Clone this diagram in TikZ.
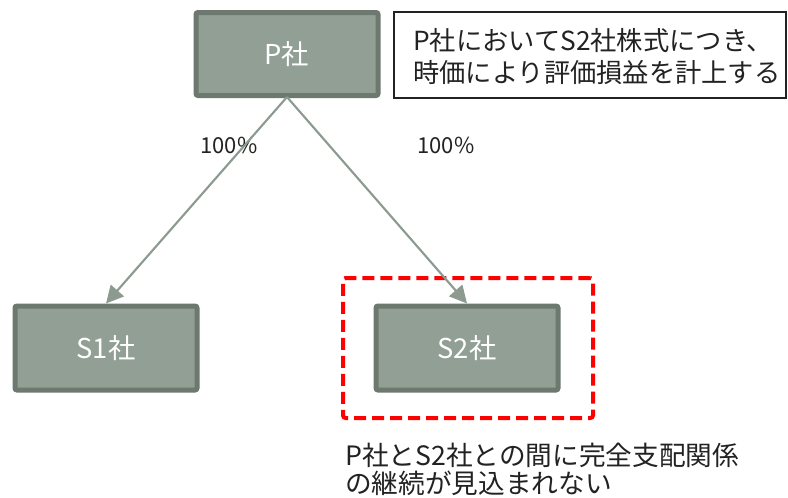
\documentclass[tikz,border=0pt]{standalone}
\usepackage{fontspec}
\setmainfont{Noto Sans CJK JP}
\usetikzlibrary{arrows.meta}
\definecolor{boxfill}{HTML}{919F94}
\definecolor{boxline}{HTML}{6D786F}
\definecolor{arrowc}{HTML}{8C9A8F}
\definecolor{txt}{HTML}{222222}
\begin{document}
\begin{tikzpicture}[x=0.75pt,y=-0.75pt,
  company/.style={draw=boxline,fill=boxfill,line width=3.75pt,rounded corners=1.5pt,
    text=white,font=\fontsize{20.5}{24}\selectfont},
  own/.style={draw=arrowc,line width=1.6pt,-{Triangle[open,length=13pt,width=13pt,fill=arrowc]}},
  pct/.style={text=txt,font=\fontsize{16.5}{20}\selectfont},
  note/.style={text=txt,font=\fontsize{19.7}{24}\selectfont,align=left},
  note2/.style={text=txt,font=\fontsize{20}{21}\selectfont,align=left}]
\useasboundingbox (0,0) rectangle (788,497);
\node[company,minimum width=182*0.75pt,minimum height=83*0.75pt] (P) at (287,54) {P社};
\node[company,minimum width=182*0.75pt,minimum height=84*0.75pt] (S1) at (106,348) {S1社};
\node[company,minimum width=182*0.75pt,minimum height=84*0.75pt] (S2) at (467,348) {S2社};
\node[draw=red,dashed,line width=3pt,dash pattern=on 9pt off 4.5pt,rounded corners=2pt,
  minimum width=250*0.75pt,minimum height=140*0.75pt] (R) at (468,348) {};
\node[draw=txt,line width=1.2pt,minimum width=392*0.75pt,minimum height=86*0.75pt] (N) at (590,55) {};
\node[note,anchor=west,inner sep=0pt] (NT) at (413,57) {P社においてS2社株式につき、\\時価により評価損益を計上する};
\node[pct] (L1) at (229,145) {100\%};
\node[pct] (L2) at (446,145) {100\%};
\node[note2,anchor=west,inner sep=0pt] (B) at (345,469) {P社とS2社との間に完全支配関係\\の継続が見込まれない};
\coordinate (Pb) at (287,97);
\draw[own] (Pb) -- (S1.north);
\draw[own] (Pb) -- (S2.north);
\end{tikzpicture}
\end{document}
